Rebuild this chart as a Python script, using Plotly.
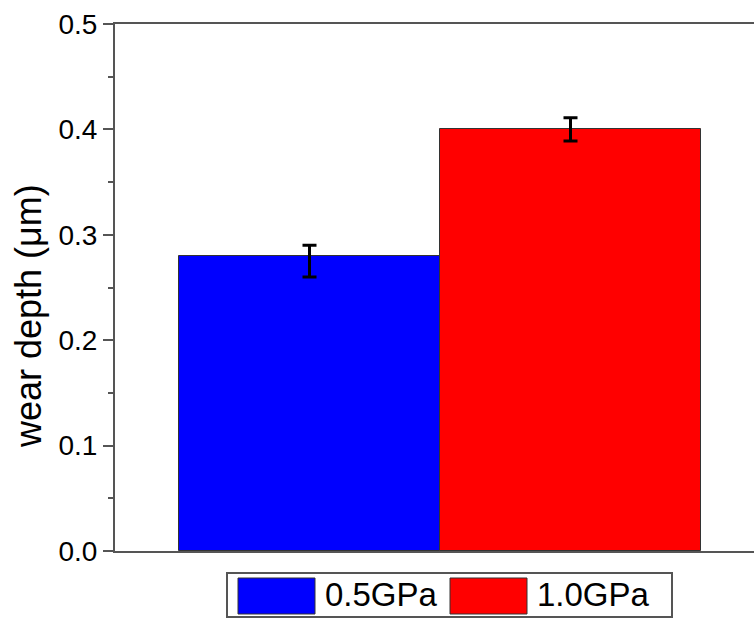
import plotly.graph_objects as go

# ---- data ----
categories = ["0.5GPa", "1.0GPa"]
values = [0.28, 0.40]
err_plus = [0.010, 0.011]
err_minus = [0.020, 0.011]
colors = ["#0000FF", "#FF0000"]
y_ticks = [0.0, 0.1, 0.2, 0.3, 0.4, 0.5]
y_label = "wear depth (μm)"

W, H = 754, 618
L, R, T, B = 115, 0, 24, 67
pw, ph = W - L - R, H - T - B

FONT = "Arial, Liberation Sans, sans-serif"
AX = "#555555"

fig = go.Figure()
for i, (cat, v, ep, em, c) in enumerate(zip(categories, values, err_plus, err_minus, colors)):
    fig.add_trace(go.Bar(
        x=[i + 1], y=[v], width=1, name=cat,
        marker=dict(color=c, line=dict(color="#333333", width=1)),
        error_y=dict(type="data", symmetric=False, array=[ep], arrayminus=[em],
                     color="black", thickness=3, width=7),
        showlegend=False,
    ))

# x axis range so bar width = 261 px and bar 1 centre at pixel 309.5
px_per_unit = 261.0
x0 = 1 - (309.5 - L) / px_per_unit
x1 = x0 + pw / px_per_unit

fig.update_layout(
    width=W, height=H,
    margin=dict(l=L, r=R, t=T, b=B, pad=0),
    paper_bgcolor="white", plot_bgcolor="white",
    font=dict(family=FONT, color="black"),
    bargap=0,
    xaxis=dict(range=[x0, x1], showticklabels=False, ticks="", showgrid=False,
               zeroline=False, showline=True, linecolor=AX, linewidth=2, mirror=True),
    yaxis=dict(range=[0, 0.5], tickvals=y_ticks, ticktext=[f"{t:.1f}" for t in y_ticks],
               ticks="outside", ticklen=10, tickwidth=1.5, tickcolor=AX,
               tickfont=dict(size=28, family=FONT, color="black"),
               minor=dict(dtick=0.05, ticks="outside", ticklen=5, tickwidth=1.5, tickcolor=AX),
               showgrid=False, zeroline=False, showline=True, linecolor=AX, linewidth=2),
    showlegend=False,
)

# y label as annotation (positioned like the reference)
fig.add_annotation(text=y_label, xref="paper", yref="paper",
                   x=(28.5 - L) / pw, y=(H - B - 316.5) / ph,
                   showarrow=False, textangle=-90,
                   font=dict(size=36, family=FONT, color="black"),
                   xanchor="center", yanchor="middle")

# custom legend
def px_x(p):
    return (p - L) / pw

def px_y(p):
    return (H - B - p) / ph

fig.add_shape(type="rect", xref="paper", yref="paper",
              x0=px_x(227), x1=px_x(672), y0=px_y(617), y1=px_y(573),
              line=dict(color=AX, width=2), fillcolor="white")
sw_x = [238, 450]
txt_x = [323, 535]
for cat, c, sx, tx in zip(categories, colors, sw_x, txt_x):
    fig.add_shape(type="rect", xref="paper", yref="paper",
                  x0=px_x(sx), x1=px_x(sx + 77), y0=px_y(614), y1=px_y(578),
                  line=dict(color="#333333", width=1), fillcolor=c)
    fig.add_annotation(text=cat, xref="paper", yref="paper",
                       x=px_x(tx), y=px_y(594), showarrow=False,
                       xanchor="left", yanchor="middle",
                       font=dict(size=33, family=FONT, color="black"))

fig.write_html(
    "out.html",
    config={"displayModeBar": False},
    post_script="document.body.style.margin='0';document.body.style.padding='0';"
                "document.documentElement.style.overflow='hidden';",
)
